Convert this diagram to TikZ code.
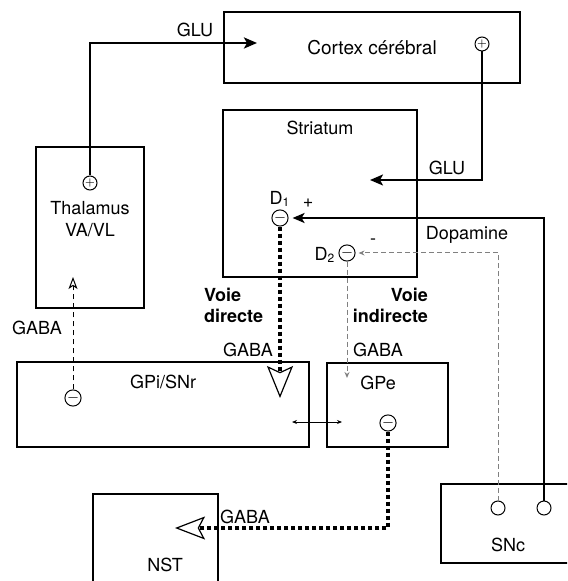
\documentclass[tikz,border=0pt]{standalone}
\usepackage{fontspec}
\setmainfont{TeX Gyre Heros}
\usetikzlibrary{arrows.meta}

\begin{document}
\begin{tikzpicture}[x=0.5pt, y=-0.5pt,
  every node/.style={font=\fontsize{9}{11}\selectfont},
  box/.style={draw, line width=0.7pt, inner sep=0pt},
  syn/.style={draw, circle, line width=0.5pt, inner sep=0pt, minimum size=7pt, font=\tiny},
  glu/.style={line width=1pt, -{Stealth[length=6.5pt, width=5.5pt, inset=1.5pt]}},
  gabadir/.style={line width=1.7pt, dash pattern=on 2.2pt off 1.3pt,
    -{Stealth[open, length=16pt, width=13pt, inset=3pt, line width=0.6pt]}},
  gabathin/.style={line width=0.5pt, dash pattern=on 2.5pt off 2pt},
  dopa/.style={gray, line width=0.5pt, dash pattern=on 2.5pt off 1.5pt}]
  \clip (0,0) rectangle (567,581);

  % boxes
  \node[box, minimum width=148pt, minimum height=35.5pt, font=\fontsize{9.5}{11}\selectfont] (cortex) at (372,47.5) {Cortex cérébral};
  \node[box, minimum width=97pt, minimum height=83.5pt] (striatum) at (320,193.5) {};
  \node[box, minimum width=54pt, minimum height=80.5pt] (thalamus) at (90,227.5) {};
  \node[box, minimum width=146pt, minimum height=42.5pt] (gpi) at (163,404.5) {};
  \node[box, minimum width=60.5pt, minimum height=42pt] (gpe) at (387.5,405) {};
  \node[box, minimum width=62.5pt, minimum height=53pt] (nst) at (155.5,547) {};
  \node[box, minimum width=69.5pt, minimum height=39.5pt] (snc) at (510.5,523.5) {};

  % labels
  \node (striatumlab) at (320,128) {Striatum};
  \node[align=center] (thalamuslab) at (90,219) {Thalamus\\VA/VL};
  \node (gpilab) at (163,382) {GPi/SNr};
  \node (gpelab) at (378,383) {GPe};
  \node (nstlab) at (165,565) {NST};
  \node (snclab) at (508,545) {SNc};
  \node (d1lab) at (280,199) {D\textsubscript{1}};
  \node (d2lab) at (325,255) {D\textsubscript{2}};
  \node (pluslab) at (308,203) {+};
  \node (minuslab) at (373,242) {-};

  % synapses
  \node[syn] (thp) at (90,183) {$+$};
  \node[syn] (cxp) at (482,44) {$+$};
  \node[syn, font=\scriptsize] (d1m) at (280,218) {$-$};
  \node[syn, font=\scriptsize] (d2m) at (347,253) {$-$};
  \node[syn, font=\scriptsize] (gpim) at (73,398) {$-$};
  \node[syn, font=\scriptsize] (gpem) at (388,423) {$-$};
  \node[syn] (sncl) at (498,508) {};
  \node[syn] (sncr) at (544,508) {};

  \coordinate (cxin) at (257,43);
  \coordinate (stin) at (370,180);
  \coordinate (gpein) at (347,378);
  \coordinate (gpiin) at (280,398);
  \coordinate (thin) at (73,277);
  \coordinate (nstin) at (175,528);
  \coordinate (gpiside) at (292,422);
  \coordinate (gpeside) at (342,422);

  % glutamate
  \draw[glu, line width=1.3pt] (thp.north) |- (cxin);
  \node (glu1) at (195,30) {GLU};
  \draw[glu] (cxp.south) |- (stin);
  \node (glu2) at (447,168) {GLU};

  % dopamine
  \draw[glu, -{Stealth[length=6pt, width=5pt, inset=1.5pt]}, shorten >=2pt] (sncr.north) |- (d1m.east);
  \draw[dopa, -{Stealth[length=3pt, width=2.5pt]}, shorten >=1.5pt] (sncl.north) |- (d2m.east);
  \node (dopalab) at (467,235) {Dopamine};

  % GABA
  \draw[gabadir] (d1m.south) -- (gpiin);
  \draw[dopa, -{Stealth[open, length=3pt, width=2.5pt]}] (d2m.south) -- (gpein);
  \draw[gabathin, -{Stealth[open, length=6pt, width=4.5pt, inset=1.5pt]}] (gpim.north) -- (thin);
  \draw[gabadir, -{Stealth[open, length=15pt, width=11.5pt, inset=3pt, line width=0.6pt]}] (gpem.south) |- (nstin);
  \draw[line width=0.4pt, {Stealth[length=2.5pt, width=2pt]}-{Stealth[length=2.5pt, width=2pt]}] (gpiside) -- (gpeside);

  \node (gaba1) at (37,328) {GABA};
  \node (gaba2) at (248,350) {GABA};
  \node (gaba3) at (378,350) {GABA};
  \node (gaba4) at (245,517) {GABA};
  \node[align=left, anchor=west, font=\fontsize{9}{10.5}\selectfont\bfseries] (voiedir) at (197,305) {Voie\\directe};
  \node[align=right, anchor=east, font=\fontsize{9}{10.5}\selectfont\bfseries] (voieind) at (435,305) {Voie\\indirecte};
\end{tikzpicture}
\end{document}
